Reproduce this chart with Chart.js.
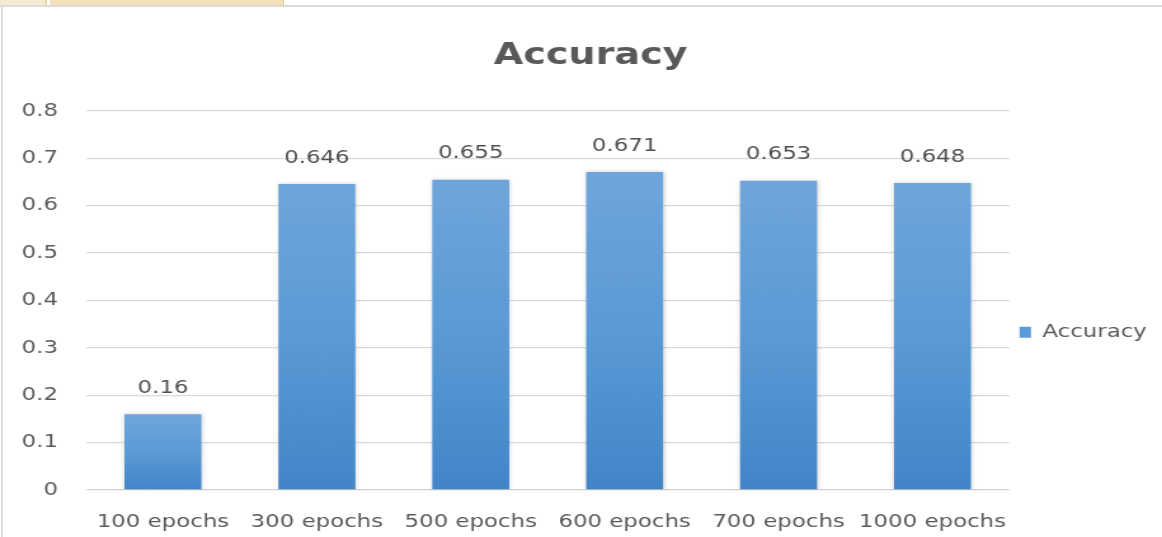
<!DOCTYPE html>
<html>
<head>
<meta charset="utf-8">
<title>Accuracy</title>
<script src="https://cdn.jsdelivr.net/npm/chart.js@4/dist/chart.umd.min.js"></script>
<style>
  html, body { margin: 0; padding: 0; background: #ffffff; overflow: hidden; }
  #page { position: relative; width: 1162px; height: 537px; background: #ffffff; }
  /* sheet strip along the top edge */
  #strip { position: absolute; left: 0; top: 0; width: 1162px; height: 5px; background: #ffffff; }
  #tab { position: absolute; left: 50px; top: 0; width: 233px; height: 5px; background: #f3e2b8; border-right: 1px solid #d8c48e; }
  #tab0 { position: absolute; left: 0; top: 0; width: 45px; height: 5px; background: #f6ead0; border-right: 2px solid #e8d6a8; }
  #rule { position: absolute; left: 0; top: 5px; width: 1162px; height: 2px; background: #dcdcdc; }
  #frame { position: absolute; left: 1px; top: 7px; width: 2px; height: 530px; background: #dedede; }
  #wrap { position: absolute; left: 0; top: 0; width: 915px; height: 537px; transform: scaleX(1.27); transform-origin: 0 0; }
  canvas { display: block; }
</style>
</head>
<body>
<div id="page">
  <div id="wrap"><canvas id="chart" width="915" height="537" style="width:915px;height:537px"></canvas></div>
  <div id="strip"></div>
  <div id="tab0"></div>
  <div id="tab"></div>
  <div id="rule"></div>
  <div id="frame"></div>
</div>
<script>
// Training runs and the accuracy each one reached
const categories = ['100 epochs', '300 epochs', '500 epochs', '600 epochs', '700 epochs', '1000 epochs'];
const accuracy = [0.16, 0.646, 0.655, 0.671, 0.653, 0.648];
const valueLabels = ['0.16', '0.646', '0.655', '0.671', '0.653', '0.648'];
const yTickLabels = ['0', '0.1', '0.2', '0.3', '0.4', '0.5', '0.6', '0.7', '0.8'];

const FONT = 'DejaVu Sans';
const TEXT = '#595959';

// Vertical light-to-dark fill for each bar, spanning from its value down to zero
function barFill(ctx) {
  const chart = ctx.chart;
  const y = chart.scales && chart.scales.y;
  if (!chart.chartArea || !y || ctx.raw === undefined) return '#5b9bd5';
  const top = y.getPixelForValue(ctx.raw);
  const bottom = y.getPixelForValue(0);
  const g = chart.ctx.createLinearGradient(0, top, 0, bottom);
  g.addColorStop(0, '#6fa5db');
  g.addColorStop(0.5, '#5a9ad6');
  g.addColorStop(1, '#4285c7');
  return g;
}

// Soft shadow around the bars
const barShadow = {
  id: 'barShadow',
  beforeDatasetDraw(chart) {
    const c = chart.ctx;
    c.save();
    c.shadowColor = 'rgba(60,60,60,0.25)';
    c.shadowBlur = 4;
    c.shadowOffsetX = 0.5;
    c.shadowOffsetY = 0;
  },
  afterDatasetDraw(chart) {
    chart.ctx.restore();
  }
};

// Value text above every bar
const valueText = {
  id: 'valueText',
  afterDatasetsDraw(chart) {
    const c = chart.ctx;
    const meta = chart.getDatasetMeta(0);
    c.save();
    c.font = '18px "' + FONT + '"';
    c.fillStyle = '#4f4f4f';
    c.textAlign = 'center';
    c.textBaseline = 'middle';
    meta.data.forEach((bar, i) => {
      c.fillText(valueLabels[i], bar.x, bar.y - 26);
    });
    c.restore();
  }
};

new Chart(document.getElementById('chart'), {
  type: 'bar',
  data: {
    labels: categories,
    datasets: [{
      label: 'Accuracy',
      data: accuracy,
      backgroundColor: barFill,
      borderWidth: 0,
      categoryPercentage: 0.5,
      barPercentage: 1.0
    }]
  },
  options: {
    responsive: false,
    animation: false,
    devicePixelRatio: 1,
    layout: { padding: { left: 17, right: 2, top: 0, bottom: 5 } },
    plugins: {
      title: {
        display: true,
        text: 'Accuracy',
        color: TEXT,
        font: { family: FONT, size: 30, weight: 'bold' },
        padding: { top: 38, bottom: 37 }
      },
      legend: {
        display: true,
        position: 'right',
        title: {
          display: true,
          text: '',
          font: { family: FONT, size: 12 },
          padding: { top: 0, bottom: 118 }
        },
        labels: {
          color: TEXT,
          font: { family: FONT, size: 18 },
          boxWidth: 9,
          boxHeight: 11,
          padding: 8,
          generateLabels(chart) {
            return [{
              text: 'Accuracy',
              fillStyle: '#5b9bd5',
              strokeStyle: '#5b9bd5',
              lineWidth: 0,
              hidden: false,
              datasetIndex: 0,
              fontColor: TEXT
            }];
          }
        }
      },
      tooltip: { enabled: false }
    },
    scales: {
      x: {
        grid: { display: false, drawTicks: false },
        border: { display: false },
        afterFit(s) { s.height = 42; },
        ticks: {
          color: TEXT,
          font: { family: FONT, size: 18 },
          padding: 22,
          maxRotation: 0,
          autoSkip: false
        }
      },
      y: {
        min: 0,
        max: 0.8,
        afterFit(s) { s.width = 50.7; },
        grid: {
          drawTicks: false,
          color: ctx => (ctx.tick && ctx.tick.value === 0) ? '#cfcfcf' : '#d9d9d9',
          lineWidth: 1.3
        },
        border: { display: false },
        ticks: {
          stepSize: 0.1,
          color: TEXT,
          font: { family: FONT, size: 18 },
          padding: 22,
          callback: (v, i) => yTickLabels[i]
        }
      }
    }
  },
  plugins: [barShadow, valueText]
});
</script>
</body>
</html>
